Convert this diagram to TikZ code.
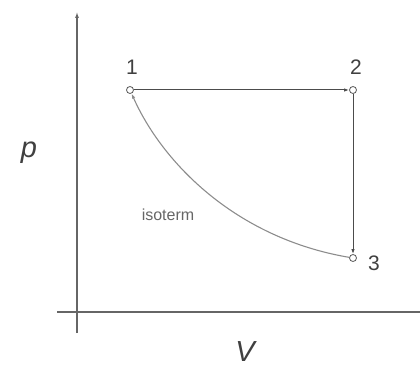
\documentclass[tikz,border=0pt]{standalone}
\usepackage{fontspec}
\setmainfont{Liberation Sans}
\usetikzlibrary{arrows.meta}
\begin{document}
\begin{tikzpicture}[x=1pt,y=-1pt,
  axis/.style={draw=black!60, line width=1.1pt},
  proc/.style={draw=black!70, line width=1pt, -{Latex[length=5pt,width=3.5pt]}},
  iso/.style={draw=black!45, line width=1.1pt, -{Latex[length=5pt,width=3.5pt]}},
  pt/.style={circle, draw=black!65, fill=white, line width=0.8pt, inner sep=0pt, minimum size=7pt},
  num/.style={text=black!75, font=\fontsize{21}{23}\selectfont},
  lab/.style={text=black!75, font=\fontsize{29}{31}\selectfont\itshape}]
\useasboundingbox (0,0) rectangle (420,371);
\coordinate (ytop) at (77,12);
\coordinate (ybot) at (77,333);
\coordinate (xl) at (57,312);
\coordinate (xr) at (420,312);
\draw[axis, -{Latex[length=6pt,width=4pt]}] (ybot) -- (ytop);
\draw[axis] (xl) -- (xr);
\node[pt] (n1) at (130,90) {};
\node[pt] (n2) at (353,90) {};
\node[pt] (n3) at (353,258) {};
\draw[proc] (n1) -- (n2);
\draw[proc] (n2) -- (n3);
\draw[iso] (n3) .. controls (235,238) and (162,162) .. (n1);
\node[num] (l1) at (132,67) {1};
\node[num] (l2) at (356,67) {2};
\node[num] (l3) at (374,263) {3};
\node[text=black!60, font=\fontsize{16}{18}\selectfont] (iso) at (168,215) {isoterm};
\node[lab] (p) at (29,153) {p};
\node[lab] (v) at (245,352) {V};
\end{tikzpicture}
\end{document}
